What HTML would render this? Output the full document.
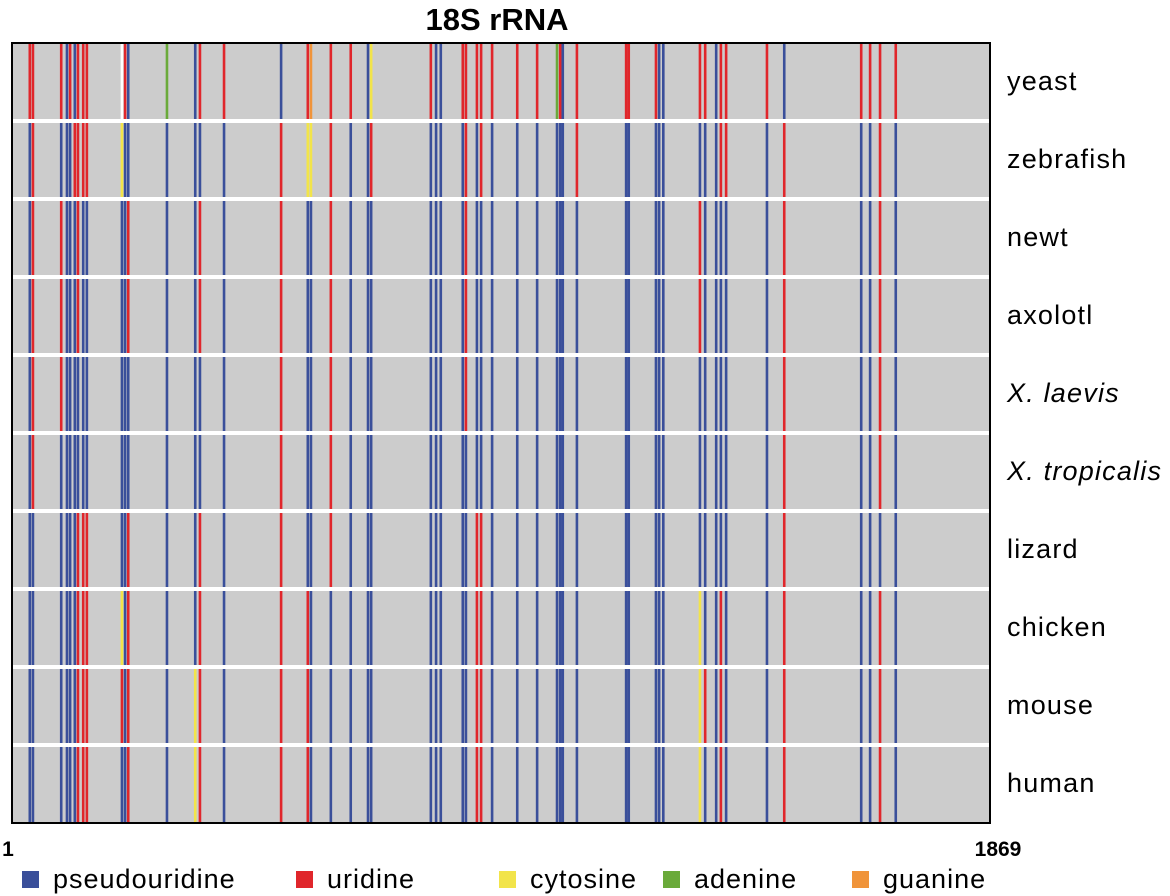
<!DOCTYPE html>
<html><head><meta charset="utf-8">
<style>
body{margin:0;background:#fff;width:1170px;height:896px;overflow:hidden;font-family:"Liberation Sans",sans-serif}
svg{display:block}
</style></head>
<body>
<svg id="chart" width="1170" height="896">
<text x="497" y="30" text-anchor="middle" font-size="31" font-weight="bold">18S rRNA</text>
<rect x="12" y="43" width="978" height="780" fill="#cccccc"/>
<g id="marks"></g>
<g id="seps"></g>
<rect x="12" y="43" width="978" height="780" fill="none" stroke="#000" stroke-width="2"/>
<text x="8" y="856" text-anchor="middle" font-size="21" font-weight="bold">1</text>
<text x="998" y="856" text-anchor="middle" font-size="21" font-weight="bold">1869</text>
<g id="labels"></g>
<g id="legend"></g>
</svg>
<script>
const species = ["yeast","zebrafish","newt","axolotl","X. laevis","X. tropicalis","lizard","chicken","mouse","human"];
const positions = [35,41,95,106,112,121,127,137,144,211,217,223,297,351,360,406,515,566,572,610,648,681,687,801,811,820,862,868,889,897,918,966,1004,1042,1048,1053,1080,1174,1179,1231,1237,1245,1315,1325,1346,1355,1365,1443,1476,1623,1640,1659,1689];
const rowCodes = [
"UUUPUPUUUW"+"UPAPUUPUGU"+"UPCUPPUUUU"+"UUUAUPUUUU"+"PPUUPUUUPUUUU",
"PUPPPUUUUC"+"PPPPPPUCCU"+"PPUPPPPUPU"+"PPPPPPUPPP"+"PPPPPUUPUPPUP",
"PUUPPPUPPP"+"PUPPUPUPPU"+"PPPPPPPUPP"+"PPPPPPPPPP"+"PPUPPPPPUPPUP",
"PUUPPPUPPP"+"PUPPUPUPPU"+"PPPPPPPUPP"+"PPPPPPPPPP"+"PPUPPPPPUPPUP",
"PUUPPPPPPP"+"PPPPPPUPPU"+"PPPPPPPUPP"+"PPPPPPPPPP"+"PPPPPPPPUPPUP",
"PUPPPPPPPP"+"PPPPPPUPPU"+"PPPPPPPPPP"+"PPPPPPPPPP"+"PPPPPPPPUPPUP",
"PPPPPPUUUP"+"PUPPUPUPPU"+"PPPPPPPPUU"+"PPPPPPPPPP"+"PPPPPPPPUPPPP",
"PPPPPPUUUC"+"PUPPUPUUPP"+"PPPPPPPPUU"+"PPPPPPPPPP"+"PPCPPUPPUPPUP",
"PPPPPPUUUU"+"PUPCUPUUPP"+"PPPPPPPPUU"+"PPPPPPPPPP"+"PPCUPUPPUPPUP",
"PPPPPPUUUP"+"PUPCUPUUPP"+"PPPPPPPPUU"+"PPPPPPPPPP"+"PPCPPUPPUPPUP"
];
const legendNames = ["pseudouridine","uridine","cytosine","adenine","guanine"];
const legendCodes = ["P","U","C","A","G"];
const colors = {P:"#3a4f9a",U:"#e0262b",C:"#f2e44a",A:"#6aaa3a",G:"#f0943a",W:"#ffffff"};
const NS="http://www.w3.org/2000/svg";
const X0=12,X1=990,Y0=43,Y1=823,N=species.length,RH=(Y1-Y0)/N;
function xs(p){return X0+(p-1)*(X1-X0)/(1869-1);}
const marks=document.getElementById('marks');
rowCodes.forEach((codes,r)=>{
  for(let i=0;i<positions.length;i++){
    const c=codes[i]; if(!c||c==='.') continue;
    const l=document.createElementNS(NS,'line');
    const x=xs(positions[i]);
    l.setAttribute('x1',x);l.setAttribute('x2',x);
    l.setAttribute('y1',Y0+r*RH);l.setAttribute('y2',Y0+(r+1)*RH);
    l.setAttribute('stroke',colors[c]);l.setAttribute('stroke-width','2.6');
    
    
    marks.appendChild(l);
  }
});
const seps=document.getElementById('seps');
for(let r=1;r<N;r++){
  const s=document.createElementNS(NS,'rect');
  s.setAttribute('x',X0);s.setAttribute('width',X1-X0);
  s.setAttribute('y',Y0+r*RH-2);s.setAttribute('height',4);s.setAttribute('fill','#fff');
  
  
  seps.appendChild(s);
}
const labels=document.getElementById('labels');
species.forEach((sp,r)=>{
  const t=document.createElementNS(NS,'text');
  t.setAttribute('x',1007);t.setAttribute('y',Y0+(r+0.5)*RH+8);
  t.setAttribute('font-size','27');
  t.setAttribute('letter-spacing','1.2');
  if(sp.startsWith('X.')) t.setAttribute('font-style','italic');
  t.textContent=sp;
  
  
  labels.appendChild(t);
});
const legX=[22,296,499,663,852];
const legend=document.getElementById('legend');
legendNames.forEach((n,i)=>{
  const g=document.createElementNS(NS,'g');
  
  
  const r=document.createElementNS(NS,'rect');
  r.setAttribute('x',legX[i]);r.setAttribute('y',871);r.setAttribute('width',17);r.setAttribute('height',17);
  r.setAttribute('fill',colors[legendCodes[i]]);
  const t=document.createElementNS(NS,'text');
  t.setAttribute('x',legX[i]+31);t.setAttribute('y',888);t.setAttribute('font-size','27');
  t.setAttribute('letter-spacing','1');
  t.textContent=n;
  g.appendChild(r);g.appendChild(t);legend.appendChild(g);
});
</script>
</body></html>
